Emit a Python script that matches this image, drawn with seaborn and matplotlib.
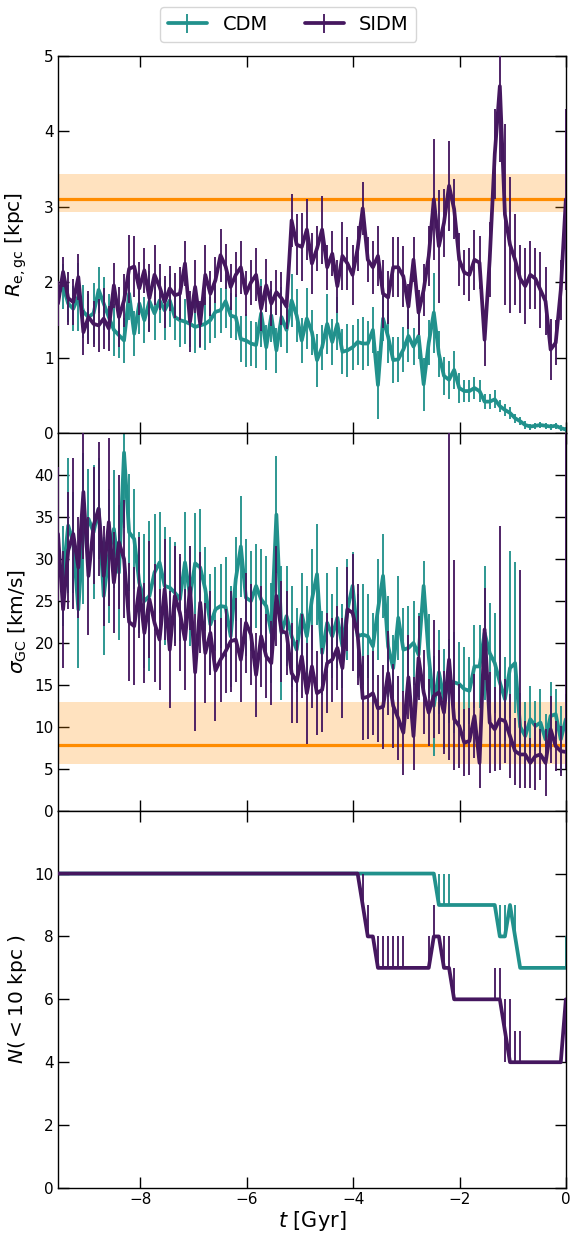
import numpy as np
import pandas as pd
import matplotlib
matplotlib.use("Agg")
import matplotlib.pyplot as plt
import seaborn as sns
from matplotlib.legend_handler import HandlerTuple

# snapshot times [Gyr], 101 outputs
t = np.linspace(-9.55, 0.0, 101)

# half-light radius of the GC system [kpc]
re_cdm = [1.85, 1.95, 1.72, 1.65, 1.81, 1.61, 1.54, 1.59, 1.90, 1.72,
          1.54, 1.37, 1.30, 1.23, 1.85, 1.32, 1.72, 1.50, 1.75, 1.59,
          1.76, 1.63, 1.76, 1.54, 1.50, 1.48, 1.45, 1.41, 1.43, 1.45,
          1.50, 1.61, 1.63, 1.75, 1.56, 1.54, 1.25, 1.23, 1.19, 1.17,
          1.59, 1.14, 1.56, 1.10, 1.54, 1.37, 1.76, 1.56, 1.23, 1.52,
          1.34, 0.97, 1.14, 1.45, 1.21, 1.45, 1.08, 1.10, 1.14, 1.21,
          1.19, 1.19, 1.37, 0.64, 1.52, 1.28, 0.97, 0.98, 1.11, 1.29,
          1.15, 1.29, 0.65, 1.20, 1.60, 1.05, 0.76, 0.71, 0.84, 0.60,
          0.56, 0.56, 0.60, 0.56, 0.42, 0.42, 0.45, 0.36, 0.31, 0.27,
          0.20, 0.16, 0.11, 0.09, 0.10, 0.11, 0.10, 0.09, 0.10, 0.07,
          0.05]
re_cdm_err = [0.25, 0.30, 0.25, 0.30, 0.45, 0.35, 0.30, 0.40, 0.30, 0.35,
              0.30, 0.35, 0.30, 0.30, 0.35, 0.30, 0.40, 0.30, 0.40, 0.35,
              0.30, 0.40, 0.35, 0.30, 0.35, 0.30, 0.30, 0.35, 0.30, 0.35,
              0.30, 0.35, 0.30, 0.35, 0.30, 0.30, 0.30, 0.35, 0.30, 0.30,
              0.45, 0.30, 0.35, 0.30, 0.40, 0.30, 0.35, 0.35, 0.30, 0.40,
              0.30, 0.35, 0.30, 0.40, 0.30, 0.35, 0.30, 0.35, 0.30, 0.30,
              0.35, 0.30, 0.30, 0.45, 0.30, 0.35, 0.30, 0.30, 0.30, 0.35,
              0.25, 0.30, 0.35, 0.30, 0.53, 0.30, 0.25, 0.25, 0.25, 0.20,
              0.15, 0.15, 0.15, 0.15, 0.10, 0.10, 0.12, 0.08, 0.08, 0.08,
              0.06, 0.05, 0.05, 0.04, 0.04, 0.04, 0.04, 0.04, 0.04, 0.04,
              0.03]
re_sidm = [1.72, 2.14, 1.79, 1.74, 2.07, 1.34, 1.54, 1.45, 1.43, 1.52,
           1.39, 1.96, 1.54, 1.76, 2.18, 2.21, 1.92, 2.16, 1.79, 2.10,
           1.94, 1.74, 1.92, 1.83, 1.85, 2.25, 1.48, 1.94, 1.45, 2.10,
           1.85, 2.03, 2.36, 2.21, 1.94, 2.10, 2.20, 1.85, 2.00, 2.10,
           1.65, 1.96, 1.72, 1.87, 1.79, 1.68, 2.82, 2.50, 2.47, 2.70,
           2.25, 2.45, 2.70, 2.20, 2.38, 1.95, 2.35, 2.25, 2.10, 2.45,
           2.98, 2.30, 2.20, 2.35, 1.85, 1.80, 2.20, 2.20, 2.08, 1.68,
           2.30, 1.60, 1.90, 2.35, 3.10, 2.48, 2.79, 3.28, 2.97, 2.30,
           2.13, 2.10, 2.30, 2.26, 1.24, 2.30, 3.70, 4.60, 2.90, 2.50,
           2.30, 2.05, 1.95, 2.10, 2.05, 1.90, 1.75, 1.11, 1.20, 1.90,
           3.10]
re_sidm_err = [0.30, 0.20, 0.35, 0.30, 0.30, 0.30, 0.35, 0.30, 0.35, 0.40,
               0.30, 0.30, 0.40, 0.35, 0.45, 0.40, 0.35, 0.30, 0.45, 0.40,
               0.30, 0.35, 0.30, 0.30, 0.35, 0.30, 0.40, 0.35, 0.30, 0.40,
               0.30, 0.30, 0.35, 0.30, 0.30, 0.30, 0.35, 0.30, 0.30, 0.35,
               0.30, 0.35, 0.30, 0.30, 0.35, 0.30, 0.35, 0.40, 0.45, 0.40,
               0.40, 0.30, 0.45, 0.30, 0.30, 0.35, 0.45, 0.35, 0.40, 0.30,
               0.35, 0.30, 0.35, 0.40, 0.45, 0.35, 0.40, 0.40, 0.40, 0.30,
               0.30, 0.30, 0.35, 0.40, 0.80, 0.75, 0.45, 0.60, 0.40, 0.35,
               0.30, 0.35, 0.40, 0.35, 0.35, 0.50, 0.60, 1.00, 1.20, 0.90,
               0.60, 0.45, 0.50, 0.45, 0.40, 0.50, 0.45, 0.40, 0.30, 0.40,
               1.20]

# GC velocity dispersion [km/s]
sig_cdm = [29.5, 28.0, 34.0, 32.0, 24.0, 33.6, 34.8, 33.2, 36.0, 25.6,
           30.4, 33.6, 28.4, 42.7, 33.2, 32.4, 27.2, 25.0, 25.6, 28.4,
           29.6, 26.8, 26.6, 26.0, 25.2, 29.6, 25.6, 29.5, 29.0, 26.4,
           22.2, 24.0, 24.4, 24.3, 20.8, 27.6, 31.5, 25.4, 25.0, 26.8,
           25.2, 24.4, 21.2, 35.3, 21.2, 23.2, 20.8, 19.2, 23.4, 20.8,
           25.2, 28.2, 18.8, 22.4, 20.8, 23.0, 19.6, 24.0, 26.8, 20.8,
           21.0, 20.8, 19.6, 24.0, 28.0, 19.6, 17.0, 23.0, 19.2, 19.4,
           20.0, 18.6, 26.8, 18.4, 12.5, 16.5, 13.3, 15.5, 15.3, 15.1,
           14.5, 14.3, 17.2, 17.2, 21.2, 18.8, 17.6, 15.3, 13.3, 17.0,
           17.6, 10.0, 8.9, 10.9, 10.1, 10.5, 8.5, 11.3, 11.5, 8.5,
           10.9]
sig_cdm_err_lo = [7, 6, 8, 6, 7, 9, 6, 8, 6, 7,
                  8, 7, 8, 9, 7, 6, 6, 8, 9, 7,
                  6, 7, 6, 6, 5, 6, 6, 6, 7, 5,
                  6, 5, 5, 6, 6, 5, 6, 7, 6, 5,
                  6, 6, 6, 7, 8, 6, 6, 5, 5, 6,
                  6, 6, 5, 6, 5, 6, 5, 6, 4, 5,
                  6, 5, 4, 6, 5, 6, 4, 5, 5, 5,
                  5, 5, 3, 5, 6, 5, 6, 5, 6, 5,
                  5, 4, 5, 5, 8, 6, 6, 5, 5, 6,
                  6, 4, 4, 4, 3, 4, 3, 4, 3, 4,
                  3]
sig_cdm_err_hi = [7, 6, 8, 6, 7, 9, 6, 8, 6, 7,
                  8, 7, 8, 9, 7, 6, 6, 8, 9, 7,
                  6, 7, 6, 6, 5, 6, 6, 6, 7, 5,
                  6, 5, 5, 6, 6, 5, 6, 7, 6, 5,
                  6, 6, 6, 7, 8, 6, 6, 5, 5, 6,
                  6, 6, 5, 6, 5, 6, 5, 6, 4, 5,
                  6, 5, 4, 6, 5, 6, 4, 5, 5, 5,
                  5, 5, 3, 5, 6, 5, 6, 5, 6, 5,
                  5, 4, 5, 5, 8, 6, 6, 5, 5, 14,
                  12, 4, 4, 4, 3, 4, 3, 4, 3, 4,
                  3]
sig_sidm = [33.0, 24.0, 31.0, 33.0, 29.0, 38.0, 28.0, 34.0, 36.0, 28.0,
            34.4, 27.2, 32.0, 30.0, 22.5, 22.0, 26.6, 21.2, 25.2, 22.4,
            20.4, 26.4, 19.2, 25.6, 23.6, 20.4, 26.6, 16.5, 24.8, 18.8,
            21.2, 16.7, 18.0, 19.0, 20.2, 20.4, 18.0, 22.4, 21.0, 16.2,
            20.8, 18.4, 17.6, 25.6, 21.4, 21.2, 16.4, 15.4, 18.4, 14.0,
            17.2, 14.0, 14.4, 17.6, 18.0, 19.4, 17.0, 24.0, 23.6, 21.0,
            13.4, 13.6, 14.0, 12.2, 12.4, 16.4, 12.5, 11.0, 9.3, 15.9,
            8.9, 18.2, 14.1, 11.7, 13.7, 14.1, 11.7, 18.0, 10.9, 10.1,
            8.1, 8.3, 11.3, 5.7, 21.6, 10.5, 9.7, 10.9, 10.7, 8.9,
            7.1, 6.7, 6.7, 5.7, 6.5, 6.7, 5.7, 9.7, 7.7, 7.1,
            7.0]
sig_sidm_err_lo = [8, 7, 7, 9, 6, 8, 7, 7, 8, 6,
                   10, 6, 8, 7, 7, 7, 6, 6, 7, 7,
                   6, 6, 7, 6, 7, 6, 5, 7, 6, 6,
                   5, 6, 5, 5, 6, 5, 5, 6, 6, 5,
                   6, 5, 5, 6, 6, 5, 6, 5, 5, 6,
                   5, 5, 5, 6, 5, 5, 6, 5, 7, 6,
                   5, 5, 5, 4, 5, 5, 5, 5, 5, 5,
                   4, 5, 5, 4, 5, 5, 5, 12, 6, 5,
                   4, 4, 5, 3, 6, 6, 5, 6, 5, 5,
                   4, 4, 4, 3, 4, 3, 4, 4, 3, 3,
                   2]
sig_sidm_err_hi = [8, 7, 7, 9, 6, 8, 7, 7, 8, 6,
                   10, 6, 8, 7, 7, 7, 6, 6, 7, 7,
                   6, 6, 7, 6, 7, 6, 5, 7, 6, 6,
                   5, 6, 5, 5, 6, 5, 5, 6, 6, 5,
                   6, 5, 5, 6, 6, 5, 6, 5, 5, 6,
                   5, 5, 5, 6, 5, 5, 6, 5, 7, 6,
                   5, 5, 5, 4, 5, 5, 5, 5, 5, 5,
                   7, 5, 5, 4, 9, 5, 5, 30, 19, 5,
                   4, 4, 5, 4, 5, 6, 5, 23, 5, 5,
                   4, 22, 4, 3, 4, 3, 4, 4, 3, 3,
                   40]

# number of GCs within 10 kpc
n_cdm = [10] * 75 + [9] * 12 + [8, 8, 9, 8] + [7] * 10
n_cdm_up = [0] * 75 + [1, 1, 1] + [0] * 9 + [1, 1, 0, 1] + [0] * 9 + [1]
n_cdm_lo = [0] * 101
n_sidm = ([10] * 60 + [9, 8, 8] + [7] * 10 + [7, 8, 8, 7, 7] + [6] * 10
          + [5] + [4] * 11 + [6])
n_sidm_up = ([0] * 60 + [1, 1, 0] + [1] * 6 + [0] * 4 + [1, 1, 0, 1, 1]
             + [1] + [0] * 7 + [1, 1] + [1, 2, 1, 1] + [0] * 9)
n_sidm_lo = [0] * 88 + [1] + [0] * 11 + [2]

# observed values (line) and their ranges (band)
re_obs, re_obs_lo, re_obs_hi = 3.10, 2.93, 3.43
sig_obs, sig_obs_lo, sig_obs_hi = 7.8, 5.6, 13.0

colors = {"CDM": "#21918c", "SIDM": "#45175f"}
obs_color = "darkorange"

sns.set_theme(style="ticks", rc={
    "axes.edgecolor": "black",
    "axes.linewidth": 1.0,
    "xtick.color": "black",
    "ytick.color": "black",
    "xtick.direction": "in",
    "ytick.direction": "in",
    "xtick.top": True,
    "ytick.right": True,
    "xtick.major.size": 8,
    "ytick.major.size": 8,
    "xtick.labelsize": 11,
    "ytick.labelsize": 11,
    "axes.labelsize": 14.5,
    "text.color": "black",
    "axes.labelcolor": "black",
})
plt.rcParams["font.family"] = ["DejaVu Sans"]


def draw_series(ax, y, err, model, z):
    df = pd.DataFrame({"t": t, "val": y})
    eb = ax.errorbar(t, y, yerr=err, fmt="none", ecolor=colors[model],
                     elinewidth=1.4, alpha=0.95, zorder=z)
    sns.lineplot(data=df, x="t", y="val", ax=ax, color=colors[model],
                 lw=2.7, errorbar=None, zorder=z + 0.5)
    return ax.lines[-1], eb


fig, axes = plt.subplots(3, 1, figsize=(5.71, 12.33), dpi=100, sharex=True)
fig.subplots_adjust(left=0.1016, right=0.991, top=0.9546, bottom=0.0365,
                    hspace=0)

# panel 1: R_e
ax = axes[0]
ax.axhspan(re_obs_lo, re_obs_hi, color=obs_color, alpha=0.25, lw=0, zorder=1)
ax.axhline(re_obs, color=obs_color, lw=2.3, zorder=1.5)
h_cdm = draw_series(ax, re_cdm, re_cdm_err, "CDM", 2)
h_sidm = draw_series(ax, re_sidm, re_sidm_err, "SIDM", 4)
ax.set_ylim(0, 5)
ax.set_yticks(range(0, 6))
ax.set_ylabel(r"$R_{\rm e,gc}$ [kpc]")

# panel 2: sigma
ax = axes[1]
ax.axhspan(sig_obs_lo, sig_obs_hi, color=obs_color, alpha=0.25, lw=0, zorder=1)
ax.axhline(sig_obs, color=obs_color, lw=2.3, zorder=1.5)
draw_series(ax, sig_cdm, [sig_cdm_err_lo, sig_cdm_err_hi], "CDM", 2)
draw_series(ax, sig_sidm, [sig_sidm_err_lo, sig_sidm_err_hi], "SIDM", 4)
ax.set_ylim(0, 45)
ax.set_yticks(range(0, 45, 5))
ax.set_ylabel(r"$\sigma_{\rm GC}$ [km/s]")

# panel 3: N(<10 kpc)
ax = axes[2]
draw_series(ax, n_cdm, [n_cdm_lo, n_cdm_up], "CDM", 2)
draw_series(ax, n_sidm, [n_sidm_lo, n_sidm_up], "SIDM", 4)
ax.set_ylim(0, 12)
ax.set_yticks(range(0, 12, 2))
ax.set_ylabel(r"$N(<10$ kpc $)$")
ax.set_xlabel(r"$t$ [Gyr]", labelpad=1, fontsize=15)
ax.set_xlim(t[0], 0)
ax.set_xticks([-8, -6, -4, -2, 0])

for a in axes:
    a.tick_params(which="both", direction="in", top=True, right=True,
                  width=1.0, length=8, pad=3)
fig.align_ylabels(axes)

fig.legend(handles=[h_cdm, h_sidm], labels=["CDM", "SIDM"],
           handler_map={tuple: HandlerTuple(ndivide=1)},
           loc="upper center", bbox_to_anchor=(0.505, 1.002), ncol=2,
           fontsize=14, columnspacing=1.9, frameon=True)

fig.savefig("out.png", dpi=100)
